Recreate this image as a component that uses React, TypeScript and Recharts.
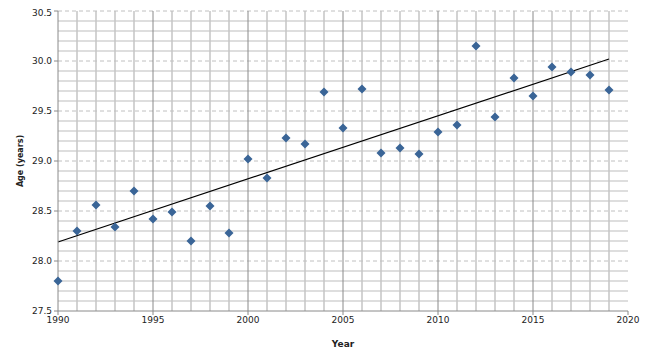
import React from 'react';
import { ScatterChart, Scatter, XAxis, YAxis, ReferenceLine } from 'recharts';

const years = [1990, 1991, 1992, 1993, 1994, 1995, 1996, 1997, 1998, 1999, 2000, 2001, 2002, 2003, 2004, 2005, 2006, 2007, 2008, 2009, 2010, 2011, 2012, 2013, 2014, 2015, 2016, 2017, 2018, 2019];
const ages = [27.80, 28.30, 28.56, 28.34, 28.70, 28.42, 28.49, 28.20, 28.55, 28.28, 29.02, 28.83, 29.23, 29.17, 29.69, 29.33, 29.72, 29.08, 29.13, 29.07, 29.29, 29.36, 30.15, 29.44, 29.83, 29.65, 29.94, 29.89, 29.86, 29.71];
const trendStart = { x: 1990, y: 28.19 };
const trendEnd = { x: 2019, y: 30.02 };

const xTicks = [1990, 1995, 2000, 2005, 2010, 2015, 2020];
const yTicks = [27.5, 28.0, 28.5, 29.0, 29.5, 30.0, 30.5];
const minorYears = Array.from({ length: 31 }, (_, i) => 1990 + i).filter((y) => !xTicks.includes(y));
const minorAges = Array.from({ length: 31 }, (_, i) => Math.round((27.5 + i * 0.1) * 10) / 10).filter(
  (a) => !yTicks.includes(a)
);

const data = years.map((x, i) => ({ x, y: ages[i] }));

const FONT = "'DejaVu Sans', Verdana, sans-serif";

const Diamond = (props: any) => {
  const { cx, cy } = props;
  if (cx == null || cy == null) return null;
  const r = 4.5;
  return <path d={`M${cx},${cy - r}L${cx + r},${cy}L${cx},${cy + r}L${cx - r},${cy}Z`} fill="#3a6597" />;
};

export default function App() {
  return (
    <ScatterChart width={642} height={352} margin={{ top: 3, right: 22, bottom: 13, left: 10 }} style={{ fontFamily: FONT }}>
      {minorAges.map((a) => (
        <ReferenceLine key={'ma' + a} y={a} stroke="#bdbdbd" strokeWidth={1} />
      ))}
      {minorYears.map((y) => (
        <ReferenceLine key={'my' + y} x={y} stroke="#c4c4c4" strokeWidth={1.5} />
      ))}
      {yTicks.slice(1).map((a) => (
        <ReferenceLine key={'Ma' + a} y={a} stroke="#c0c0c0" strokeDasharray="4 3" strokeWidth={1} />
      ))}
      {xTicks.slice(1, -1).map((y) => (
        <ReferenceLine key={'My' + y} x={y} stroke="#8a8a8a" strokeWidth={1} />
      ))}
      <XAxis
        type="number"
        dataKey="x"
        domain={[1990, 2020]}
        ticks={xTicks}
        height={36}
        axisLine={{ stroke: '#8a8a8a' }}
        tickLine={{ stroke: '#8a8a8a' }}
        tickSize={4}
        tick={{ fontSize: 9, fill: '#222', fontFamily: FONT }}
        label={{ value: 'Year', position: 'insideBottom', offset: 0, style: { fontSize: 9, fontWeight: 'bold', fill: '#222', fontFamily: FONT } }}
      />
      <YAxis
        type="number"
        dataKey="y"
        domain={[27.5, 30.5]}
        ticks={yTicks}
        width={40}
        axisLine={{ stroke: '#8a8a8a' }}
        tickLine={{ stroke: '#8a8a8a' }}
        tickSize={4}
        tickFormatter={(v: number) => v.toFixed(1)}
        tick={{ fontSize: 9, fill: '#222', fontFamily: FONT }}
        label={{ value: 'Age (years)', angle: -90, position: 'insideLeft', offset: 2, style: { fontSize: 8, fontWeight: 'bold', fill: '#222', textAnchor: 'middle', fontFamily: FONT } }}
      />
      <ReferenceLine segment={[trendStart, trendEnd]} stroke="#000" strokeWidth={1.2} />
      <Scatter data={data} shape={<Diamond />} isAnimationActive={false} />
    </ScatterChart>
  );
}
